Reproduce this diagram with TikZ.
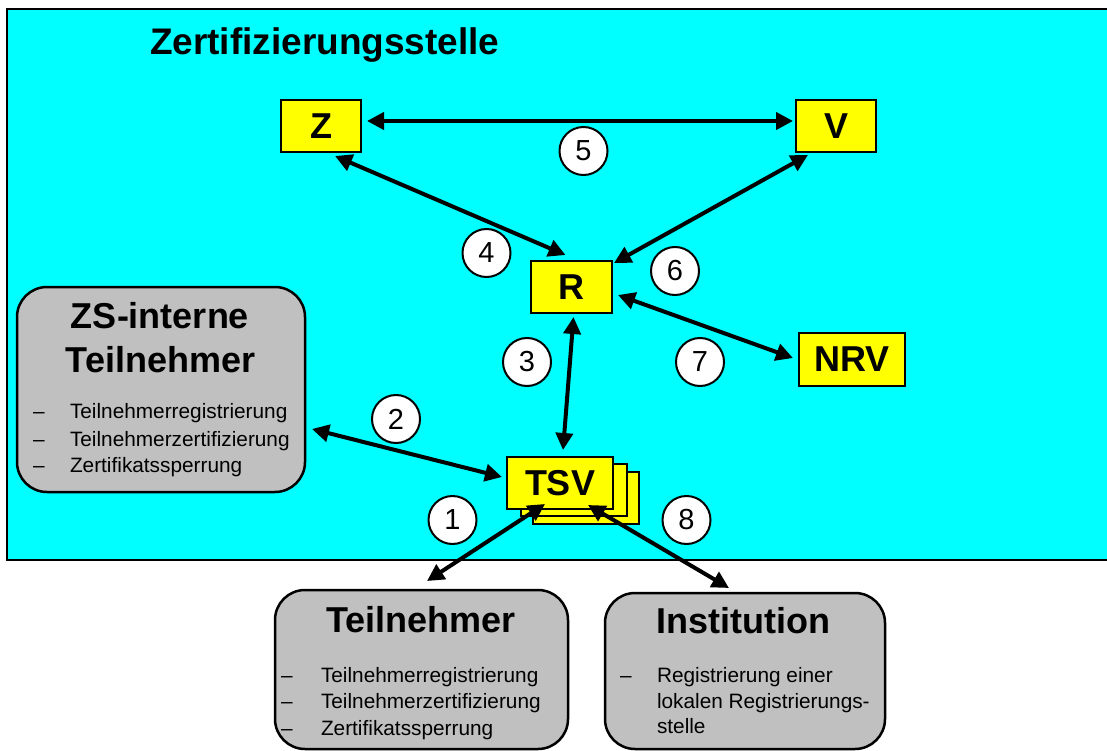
\documentclass[tikz,border=0pt]{standalone}
\usepackage{fontspec}
\setmainfont{Liberation Sans}
\usetikzlibrary{arrows.meta,calc}

\definecolor{panel}{RGB}{192,192,192}
\definecolor{area}{RGB}{0,255,255}
\definecolor{unitfill}{RGB}{255,255,0}

\begin{document}
\begin{tikzpicture}[x=1pt,y=-1pt,
  every node/.style={inner sep=0pt, outer sep=0pt},
  unit/.style={draw=black, line width=2.5pt, fill=unitfill, minimum height=52pt,
    font=\fontsize{36}{40}\selectfont\bfseries},
  group/.style={draw=black, line width=2.5pt, fill=panel, rounded corners=30pt},
  heading/.style={anchor=base, font=\fontsize{36}{40}\selectfont\bfseries},
  item/.style={anchor=base west, font=\fontsize{20.8}{26}\selectfont},
  num/.style={circle, draw=black, line width=2pt, fill=white, minimum size=48pt,
    font=\fontsize{29}{30}\selectfont},
  link/.style={line width=4pt,
    {Triangle[length=17pt,width=17pt]}-{Triangle[length=17pt,width=17pt]}}
]
\useasboundingbox (0,0) rectangle (1107,751);
\clip (0,0) rectangle (1107,751);

% certification authority area
\draw[line width=2.5pt, fill=area] (7,9) rectangle (1125,560);
\node[anchor=base west, font=\fontsize{37}{40}\selectfont\bfseries] (title) at (150,55) {Zertifizierungsstelle};

% components
\node[unit, minimum width=80pt] (Z) at (321,126) {Z};
\node[unit, minimum width=80pt] (V) at (836,126) {V};
\node[unit, minimum width=81pt] (R) at (571.5,287) {R};
\node[unit, minimum width=106pt, minimum height=53pt] (NRV) at (852,359.5) {NRV};
\node[unit, minimum width=106pt] (TSV3) at (586,498) {};
\node[unit, minimum width=106pt] (TSV2) at (574,490) {};
\node[unit, minimum width=106pt] (TSV) at (560,483) {TSV};

% internal participants
\node[group, minimum width=288pt, minimum height=205pt] (zs) at (161,389.5) {};
\node[heading] (zsh1) at (160,328) {ZS-interne};
\node[heading] (zsh2) at (160.5,372) {Teilnehmer};
\foreach \t/\yy [count=\i] in {Teilnehmerregistrierung/418,Teilnehmerzertifizierung/446,Zertifikatssperrung/472}{
  \node[item] (zsd\i) at (33,\yy) {\textendash};
  \node[item] (zst\i) at (70,\yy) {\t};
}

% participants
\node[group, minimum width=293pt, minimum height=159pt] (tn) at (421.5,669.5) {};
\node[heading] (tnh) at (421,632) {Teilnehmer};
\foreach \t/\yy [count=\i] in {Teilnehmerregistrierung/682,Teilnehmerzertifizierung/708,Zertifikatssperrung/735}{
  \node[item] (tnd\i) at (281,\yy) {\textendash};
  \node[item] (tnt\i) at (321,\yy) {\t};
}

% institution
\node[group, minimum width=280pt, minimum height=156pt] (inst) at (745,671) {};
\node[heading] (insth) at (743.5,633) {Institution};
\node[item] (instd) at (620,682) {\textendash};
\node[item] (inst1) at (657,682) {Registrierung einer};
\node[item] (inst2) at (657,708) {lokalen Registrierungs-};
\node[item] (inst3) at (657,733) {stelle};

% connections
\draw[link] ($(Z.east)+(6,-5)$) -- ($(V.west)+(-3,-5)$);
\draw[link] ($(Z.south)+(14,4)$) -- ($(R.north)+(-6,-6)$);
\draw[link] ($(V.south)+(-28,3)$) -- ($(R.north east)+(2,2)$);
\draw[link] ($(R.east)+(6,8)$) -- ($(NRV.west)+(-6,-1.5)$);
\draw[link] ($(R.south)+(2,4)$) -- ($(TSV.north)+(3,-7)$);
\draw[link] ($(zs.east)+(7,39.5)$) -- ($(TSV.west)+(-5,-6)$);
\draw[link] ($(TSV.south)+(-15,-5)$) -- ($(tn.north)+(5.5,-9)$);
\draw[link] ($(TSV.south)+(28,-4)$) -- ($(inst.north)+(-16,-5)$);

% step numbers
\node[num] (n1) at (452.5,520) {1};
\node[num] (n2) at (396,419) {2};
\node[num] (n3) at (527,362) {3};
\node[num] (n4) at (486.5,253) {4};
\node[num] (n5) at (583.5,151) {5};
\node[num] (n6) at (675,271) {6};
\node[num] (n7) at (700,362) {7};
\node[num] (n8) at (686.5,520) {8};
\end{tikzpicture}
\end{document}
